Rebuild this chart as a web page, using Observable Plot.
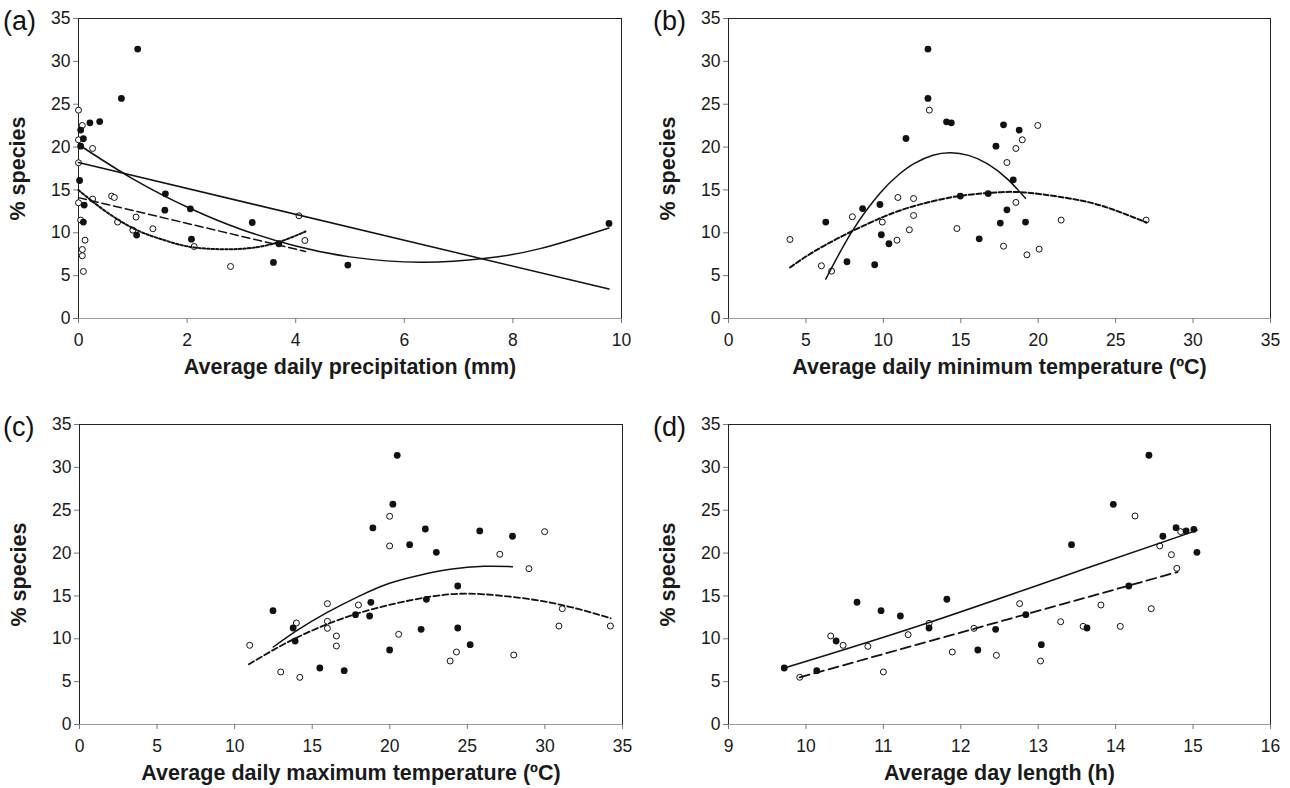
<!DOCTYPE html>
<html><head><meta charset="utf-8">
<script src="https://cdn.jsdelivr.net/npm/d3@7"></script>
<script src="https://cdn.jsdelivr.net/npm/@observablehq/plot@0.6"></script>
<style>
body{margin:0;background:#fff;}
#wrap{position:relative;width:1290px;height:788px;overflow:hidden;background:#fff;font-family:"Liberation Sans",Arial,sans-serif;}
.pnl{position:absolute;}
.tag{position:absolute;font-size:27px;line-height:1;color:#111;font-family:"Liberation Sans",Arial,sans-serif;}
svg [aria-label="x-axis label"], svg [aria-label="y-axis label"]{font-weight:bold;font-size:21.5px;}
</style></head>
<body><div id="wrap"></div>
<script>
// ---- shared ----
const yTicks = [0, 5, 10, 15, 20, 25, 30, 35];
const panelTags = ["(a)", "(b)", "(c)", "(d)"];
const xLabels = [
  "Average daily precipitation (mm)",
  "Average daily minimum temperature (ºC)",
  "Average daily maximum temperature (ºC)",
  "Average day length (h)"
];
const yLabel = "% species";

// ---- panel (a): precipitation ----
const aXTicks = [0, 2, 4, 6, 8, 10];
const aFilledX = [1.09, 0.79, 0.39, 0.21, 0.04, 0.09, 0.04, 0.02, 0.105, 0.09, 1.6, 1.59, 2.06, 2.08, 1.07, 3.2, 3.59, 3.69, 4.96, 9.77];
const aFilledY = [31.43, 25.67, 22.98, 22.83, 21.98, 20.97, 20.11, 16.1, 13.23, 11.25, 14.55, 12.64, 12.8, 9.26, 9.73, 11.2, 6.54, 8.72, 6.23, 11.09];
const aOpenX = [0, 0.07, 0, 0.26, 0, 0, 0.26, 0.04, 0.12, 0.07, 0.07, 0.09, 0.61, 0.66, 0.72, 1.06, 1.0, 1.37, 2.13, 2.8, 4.06, 4.17];
const aOpenY = [24.31, 22.52, 20.85, 19.84, 18.17, 13.5, 13.93, 11.48, 9.14, 8.05, 7.32, 5.49, 14.28, 14.12, 11.25, 11.83, 10.31, 10.47, 8.4, 6.07, 11.98, 9.1];
const aSolidLinX = [0, 9.77];
const aSolidLinY = [18.2, 3.43];
const aSolidCurveX = [0, 1, 2.06, 3, 4, 5, 6.3, 7.5, 8.5, 9.77];
const aSolidCurveY = [20.3, 16.3, 12.83, 10.39, 8.45, 7.19, 6.56, 7.02, 8.15, 10.57];
const aDashX = [0, 4.18];
const aDashY = [14.1, 7.82];
const aDotX = [0, 0.5, 1.08, 1.6, 2.12, 2.92, 3.6, 4.18];
const aDotY = [14.98, 12.5, 10.3, 9.1, 8.3, 8.1, 8.75, 10.15];

// ---- panel (b): minimum temperature ----
const bXTicks = [0, 5, 10, 15, 20, 25, 30, 35];
const bFilledX = [12.88, 12.88, 14.08, 14.39, 11.46, 17.76, 18.77, 17.27, 18.39, 16.77, 14.97, 9.78, 8.66, 17.98, 6.28, 17.55, 19.18, 9.87, 16.19, 10.36, 7.65, 9.44];
const bFilledY = [31.43, 25.67, 22.95, 22.83, 21.0, 22.6, 21.98, 20.11, 16.18, 14.58, 14.28, 13.3, 12.83, 12.68, 11.25, 11.13, 11.25, 9.77, 9.3, 8.72, 6.62, 6.27];
const bOpenX = [12.97, 19.97, 18.97, 18.56, 17.98, 10.94, 11.95, 18.56, 8.0, 11.95, 9.93, 21.48, 11.68, 14.75, 3.97, 10.88, 17.76, 20.06, 19.27, 6.0, 6.66, 26.97];
const bOpenY = [24.31, 22.52, 20.85, 19.84, 18.2, 14.12, 14.0, 13.54, 11.87, 12.02, 11.25, 11.48, 10.35, 10.5, 9.22, 9.14, 8.44, 8.09, 7.43, 6.15, 5.53, 11.48];
const bSolidX = [6.28, 8, 9.78, 11, 11.98, 13.2, 14.34, 15.5, 16.71, 18, 19.18];
const bSolidY = [4.6, 10.22, 14.62, 16.8, 18.07, 19.04, 19.33, 19.03, 18.06, 16.29, 14.03];
const bDashX = [3.97, 6.28, 9.93, 12.5, 14.99, 17.57, 19.5, 22.73, 25, 27];
const bDashY = [5.95, 8.6, 11.8, 13.37, 14.32, 14.73, 14.64, 13.77, 12.6, 11.2];

// ---- panel (c): maximum temperature ----
const cXTicks = [0, 5, 10, 15, 20, 25, 30, 35];
const cFilledX = [20.48, 20.2, 18.91, 22.29, 25.8, 27.91, 21.28, 23.0, 24.38, 22.36, 18.78, 12.47, 17.79, 18.7, 13.77, 24.38, 22.02, 13.9, 25.18, 19.99, 15.49, 17.06];
const cFilledY = [31.4, 25.7, 22.93, 22.81, 22.58, 21.96, 20.98, 20.09, 16.16, 14.6, 14.25, 13.28, 12.81, 12.66, 11.26, 11.26, 11.1, 9.74, 9.31, 8.69, 6.59, 6.28];
const cOpenX = [19.99, 29.98, 19.99, 27.09, 28.97, 15.98, 17.98, 31.12, 13.98, 15.98, 15.98, 30.9, 34.22, 16.56, 20.57, 10.97, 16.56, 24.3, 27.99, 23.89, 12.97, 14.2];
const cOpenY = [24.29, 22.5, 20.83, 19.86, 18.18, 14.1, 13.94, 13.51, 11.84, 12.04, 11.22, 11.49, 11.49, 10.33, 10.52, 9.24, 9.16, 8.46, 8.11, 7.41, 6.13, 5.5];
const cSolidX = [12.49, 14, 15.94, 18, 20.03, 22, 23.9, 26.06, 27.91];
const cSolidY = [9.04, 10.95, 13.05, 14.95, 16.5, 17.45, 18.1, 18.46, 18.41];
const cDashX = [10.92, 13.79, 17.88, 22.62, 26.06, 30.37, 34.24];
const cDashY = [7.02, 9.94, 12.93, 14.91, 15.19, 14.21, 12.39];

// ---- panel (d): day length ----
const dXTicks = [9, 10, 11, 12, 13, 14, 15, 16];
const dFilledX = [14.43, 13.97, 14.78, 14.91, 15.01, 14.61, 13.43, 15.05, 14.17, 11.82, 10.66, 10.97, 12.84, 11.22, 11.59, 13.63, 12.45, 10.39, 13.04, 12.22, 9.72, 10.14];
const dFilledY = [31.41, 25.69, 22.96, 22.58, 22.77, 21.96, 20.98, 20.09, 16.16, 14.61, 14.26, 13.28, 12.81, 12.66, 11.26, 11.26, 11.1, 9.74, 9.31, 8.69, 6.59, 6.28];
const dOpenX = [14.25, 14.84, 14.57, 14.72, 14.79, 12.76, 13.81, 14.46, 11.59, 13.29, 12.17, 13.58, 14.06, 10.32, 11.32, 10.48, 10.8, 11.89, 12.46, 13.03, 11.0, 9.92];
const dOpenY = [24.33, 22.5, 20.83, 19.81, 18.22, 14.1, 13.94, 13.51, 11.8, 11.99, 11.22, 11.45, 11.45, 10.33, 10.48, 9.24, 9.12, 8.46, 8.07, 7.41, 6.13, 5.51];
const dSolidX = [9.72, 11.59, 13.67, 15.05];
const dSolidY = [6.59, 11.9, 18.38, 22.65];
const dDashX = [9.92, 14.8];
const dDashY = [5.5, 17.79];

// ---- helpers ----
const zip = (X, Y) => X.map((x, i) => ({x, y: Y[i]}));
const INK = "#111";
const intFmt = d3.format("d");

function panel(cfg) {
  const marks = [
    Plot.frame({stroke: "#222", strokeWidth: 1}),
    Plot.ruleY([cfg.yDomain[0]], {stroke: "#9a9a9a", strokeWidth: 1.2}),
    Plot.axisX({ticks: cfg.xTicks, tickFormat: intFmt, tickSize: 5, tickPadding: 10, stroke: "#777",
      label: cfg.xLabel, labelAnchor: "center", labelOffset: 55, labelArrow: "none"}),
    Plot.axisY({ticks: yTicks, tickFormat: intFmt, tickSize: 5, tickPadding: 3, stroke: "#777",
      label: yLabel, labelAnchor: "center", labelOffset: 69, labelArrow: "none"}),
    Plot.dot(zip(cfg.openX, cfg.openY), {x: "x", y: "y", r: 3, fill: "#fff", stroke: INK, strokeWidth: 1}),
    Plot.dot(zip(cfg.filledX, cfg.filledY), {x: "x", y: "y", r: 3.4, fill: INK, stroke: "none"})
  ];
  for (const ln of cfg.lines) {
    marks.push(Plot.line(zip(ln.x, ln.y), {x: "x", y: "y", curve: "natural", stroke: INK,
      strokeWidth: ln.w || 1.5, strokeDasharray: ln.dash || null}));
  }
  return Plot.plot({
    width: cfg.width, height: cfg.height,
    marginLeft: cfg.ml, marginRight: cfg.mr, marginTop: 18, marginBottom: cfg.height - 318,
    style: {fontFamily: "'Liberation Sans', Arial, sans-serif", fontSize: "17.5px", color: "#1a1a1a", background: "#fff", overflow: "visible"},
    x: {domain: cfg.xDomain},
    y: {domain: cfg.yDomain},
    marks
  });
}

const wrap = document.getElementById("wrap");
function place(node, left, top) {
  const d = document.createElement("div");
  d.className = "pnl";
  d.style.left = left + "px";
  d.style.top = top + "px";
  d.appendChild(node);
  wrap.appendChild(d);
}

const specs = [
  {left: 0, top: 0, width: 645, ml: 78, mr: 24, xDomain: [0, 10], xTicks: aXTicks,
   filledX: aFilledX, filledY: aFilledY, openX: aOpenX, openY: aOpenY,
   lines: [
     {x: aSolidLinX, y: aSolidLinY},
     {x: aSolidCurveX, y: aSolidCurveY},
     {x: aDashX, y: aDashY, dash: "8,4"},
     {x: aDotX, y: aDotY, dash: "2.5,2", w: 2}
   ]},
  {left: 650, top: 0, width: 640, ml: 78, mr: 20, xDomain: [0, 35], xTicks: bXTicks,
   filledX: bFilledX, filledY: bFilledY, openX: bOpenX, openY: bOpenY,
   lines: [
     {x: bSolidX, y: bSolidY},
     {x: bDashX, y: bDashY, dash: "5,2.5", w: 2}
   ]},
  {left: 0, top: 406, width: 645, ml: 79, mr: 23, xDomain: [0, 35], xTicks: cXTicks,
   filledX: cFilledX, filledY: cFilledY, openX: cOpenX, openY: cOpenY,
   lines: [
     {x: cSolidX, y: cSolidY},
     {x: cDashX, y: cDashY, dash: "6,3", w: 1.8}
   ]},
  {left: 650, top: 406, width: 640, ml: 78, mr: 20, xDomain: [9, 16], xTicks: dXTicks,
   filledX: dFilledX, filledY: dFilledY, openX: dOpenX, openY: dOpenY,
   lines: [
     {x: dSolidX, y: dSolidY},
     {x: dDashX, y: dDashY, dash: "10,5", w: 1.8}
   ]}
];

specs.forEach((s, i) => {
  const h = i < 2 ? 400 : 382;
  const svg = panel({...s, height: h, yDomain: [0, 35], xLabel: xLabels[i]});
  place(svg, s.left, s.top);
  const t = document.createElement("div");
  t.className = "tag";
  t.textContent = panelTags[i];
  t.style.left = (s.left + 3) + "px";
  t.style.top = (s.top + 8) + "px";
  wrap.appendChild(t);
});
</script>
</body></html>
